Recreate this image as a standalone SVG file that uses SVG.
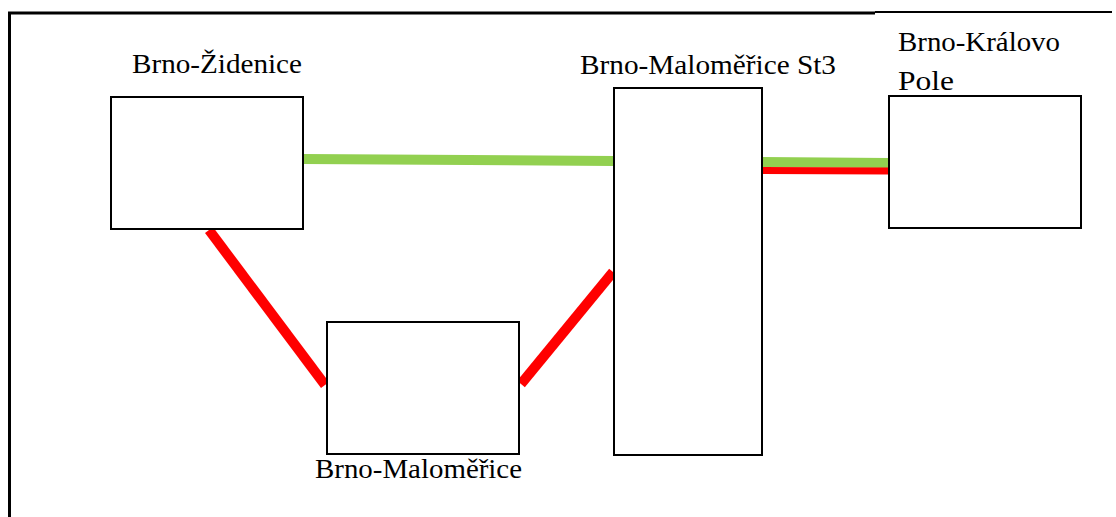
<svg xmlns="http://www.w3.org/2000/svg" width="1116" height="517" viewBox="0 0 1116 517">
<style>
.box{fill:#fff;stroke:#000;stroke-width:2}
.lbl{font-family:"Liberation Serif","Times New Roman",serif;font-size:28px;fill:#000}
.g{stroke:#92D050;stroke-width:10;fill:none}
.r{stroke:#FF0000;fill:none}
</style>
<rect width="1116" height="517" fill="#fff"/>
<g id="frame">
<path d="M9.5,517 V13 H875" fill="none" stroke="#000" stroke-width="3"/>
<path d="M875,12 H1112" fill="none" stroke="#000" stroke-width="2"/>
</g>
<g id="connectors">
<line class="g" x1="303" y1="159" x2="614" y2="161"/>
<line class="g" x1="762" y1="162" x2="889" y2="163"/>
<line class="r" stroke-width="7" x1="762" y1="170.5" x2="889" y2="171"/>
<line class="r" stroke-width="10" x1="209" y1="230" x2="325" y2="385"/>
<line class="r" stroke-width="10" x1="521" y1="384" x2="613" y2="272"/>
</g>
<g id="zidenice">
<rect class="box" x="111" y="97" width="192" height="132"/>
<text class="lbl" x="132" y="73" textLength="170" lengthAdjust="spacingAndGlyphs">Brno-Židenice</text>
</g>
<g id="malomerice">
<rect class="box" x="327" y="322" width="192" height="132"/>
<text class="lbl" x="315" y="478" textLength="207" lengthAdjust="spacingAndGlyphs">Brno-Maloměřice</text>
</g>
<g id="malomerice-st3">
<rect class="box" x="614" y="88" width="148" height="367"/>
<text class="lbl" x="580" y="74" textLength="256" lengthAdjust="spacingAndGlyphs">Brno-Maloměřice St3</text>
</g>
<g id="kralovo-pole">
<rect class="box" x="889" y="96" width="192" height="132"/>
<text class="lbl" x="898" y="51" textLength="162" lengthAdjust="spacingAndGlyphs">Brno-Královo</text>
<text class="lbl" x="898" y="90" textLength="56" lengthAdjust="spacingAndGlyphs">Pole</text>
</g>
</svg>
